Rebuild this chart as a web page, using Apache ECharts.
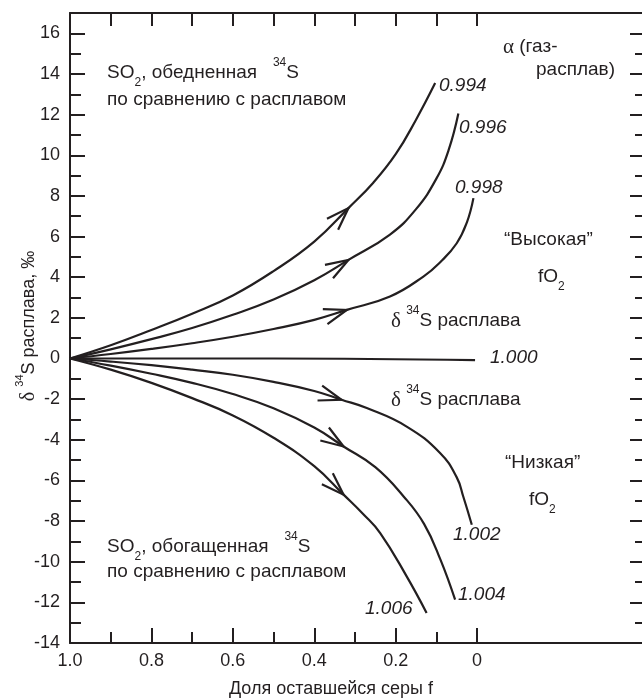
<!DOCTYPE html>
<html>
<head>
<meta charset="utf-8">
<script src="https://cdn.jsdelivr.net/npm/echarts@6/dist/echarts.min.js"></script>
<style>
  html, body { margin: 0; padding: 0; background: #fff; }
  #main { width: 642px; height: 699px; }
</style>
</head>
<body>
<div id="main"></div>
<script>
var ink = '#231f20';
var sans = '"Liberation Sans", Arial, sans-serif';
var serif = '"Liberation Serif", "Times New Roman", serif';

// доля оставшейся серы f и δ34S расплава для каждого α
var fA0994 = [1.0, 0.9, 0.8, 0.7, 0.6, 0.5, 0.4, 0.316, 0.255, 0.2, 0.15, 0.103];
var dA0994 = [0, 0.65, 1.4, 2.2, 3.1, 4.3, 5.75, 7.4, 8.65, 10.05, 11.75, 13.55];

var fA0996 = [1.0, 0.9, 0.8, 0.7, 0.6, 0.5, 0.4, 0.316, 0.214, 0.15, 0.1, 0.07, 0.046];
var dA0996 = [0, 0.45, 0.95, 1.5, 2.15, 2.9, 3.85, 4.85, 6.1, 7.35, 8.85, 10.25, 12.05];

var fA0998 = [1.0, 0.9, 0.8, 0.7, 0.6, 0.5, 0.4, 0.32, 0.214, 0.132, 0.09, 0.05, 0.025, 0.009];
var dA0998 = [0, 0.22, 0.47, 0.75, 1.07, 1.45, 1.9, 2.39, 3.05, 4.03, 4.75, 5.67, 6.7, 7.89];

var fA1000 = [1.0, 0.5, 0.005];
var dA1000 = [0, 0, -0.08];

var fA1002 = [1.0, 0.9, 0.8, 0.7, 0.6, 0.5, 0.4, 0.333, 0.271, 0.173, 0.091, 0.05, 0.034, 0.013];
var dA1002 = [0, -0.15, -0.33, -0.55, -0.8, -1.15, -1.6, -2.03, -2.44, -3.35, -4.65, -5.85, -6.79, -8.18];

var fA1004 = [1.0, 0.9, 0.8, 0.7, 0.6, 0.5, 0.4, 0.328, 0.25, 0.18, 0.13, 0.09, 0.054];
var dA1004 = [0, -0.35, -0.75, -1.2, -1.75, -2.45, -3.4, -4.33, -5.35, -6.8, -8.15, -9.9, -11.87];

var fA1006 = [1.0, 0.9, 0.8, 0.7, 0.6, 0.5, 0.4, 0.328, 0.28, 0.238, 0.173, 0.124];
var dA1006 = [0, -0.55, -1.2, -1.95, -2.8, -3.9, -5.3, -6.7, -7.65, -8.59, -10.72, -12.52];

// стрелки: острие и точка позади него на той же кривой
var arrowTips  = [[0.316, 7.4], [0.316, 4.85], [0.32, 2.39], [0.333, -2.03], [0.328, -4.33], [0.328, -6.7]];
var arrowTails = [[0.37, 6.3], [0.37, 4.2], [0.37, 2.08], [0.383, -1.72], [0.378, -3.67], [0.378, -5.72]];

// деления осей
var xMajorTicks = [1.0, 0.8, 0.6, 0.4, 0.2, 0];
var xMinorTicks = [0.9, 0.7, 0.5, 0.3, 0.1];
var xTopTicks = [1.0, 0.9, 0.8, 0.7, 0.6, 0.5, 0.4, 0.3, 0.2, 0.1, 0];
var yMajorTicks = [-14, -12, -10, -8, -6, -4, -2, 0, 2, 4, 6, 8, 10, 12, 14, 16];
var yMinorTicks = [-13, -11, -9, -7, -5, -3, -1, 1, 3, 5, 7, 9, 11, 13, 15];

var X_MIN = -0.41, X_MAX = 1, Y_MIN = -14, Y_MAX = 17;

function zip(f, d) {
    var out = [];
    for (var i = 0; i < f.length; i++) out.push([f[i], d[i]]);
    return out;
}

var chart = echarts.init(document.getElementById('main'), null, { renderer: 'canvas' });

function xAx(pos, ticks, len, labels, showLine) {
    return {
        type: 'value', position: pos, min: X_MIN, max: X_MAX, inverse: true,
        axisLine: { show: showLine, onZero: false, lineStyle: { color: ink, width: 2 } },
        axisTick: { show: true, inside: true, length: len, customValues: ticks, lineStyle: { color: ink, width: 2 } },
        axisLabel: labels ? {
            customValues: labels, color: ink, fontSize: 18, fontFamily: sans, margin: 9,
            formatter: function (v) { return v === 1 ? '1.0' : (v === 0 ? '0' : v.toFixed(1)); }
        } : { show: false },
        splitLine: { show: false }
    };
}
function yAx(pos, ticks, len, labels, showLine) {
    return {
        type: 'value', position: pos, min: Y_MIN, max: Y_MAX,
        axisLine: { show: showLine, onZero: false, lineStyle: { color: ink, width: 2 } },
        axisTick: { show: true, inside: true, length: len, customValues: ticks, lineStyle: { color: ink, width: 2 } },
        axisLabel: labels ? { customValues: labels, color: ink, fontSize: 18, fontFamily: sans, margin: 10 } : { show: false },
        splitLine: { show: false }
    };
}

function curve(name, f, d) {
    return {
        name: name, type: 'line', data: zip(f, d), showSymbol: false, symbol: 'none',
        smooth: 0.45,
        lineStyle: { color: ink, width: 2.2 }, silent: true
    };
}

// текст: обычный, нижний и верхний индексы
var rich = {
    n:   { fontSize: 19, fontFamily: sans, lineHeight: 32, fill: ink },
    it:  { fontSize: 19, fontFamily: sans, fontStyle: 'italic', lineHeight: 32, fill: ink },
    g:   { fontSize: 21, fontFamily: serif, lineHeight: 32, fill: ink },
    sup: { fontSize: 12, fontFamily: sans, lineHeight: 10, verticalAlign: 'top', fill: ink },
    sub: { fontSize: 12, fontFamily: sans, lineHeight: 18, verticalAlign: 'bottom', fill: ink }
};
function txt(x, y, text, align) {
    return {
        type: 'text', x: x, y: y, silent: true,
        style: {
            text: text, rich: rich, fill: ink, font: '19px ' + sans,
            align: align || 'left', verticalAlign: 'middle',
            textAlign: align || 'left', textVerticalAlign: 'middle'
        }
    };
}

var option = {
    animation: false,
    backgroundColor: '#fff',
    grid: { left: 70, top: 13, right: -2, bottom: 56, containLabel: false, outerBoundsMode: 'none' },
    xAxis: [
        xAx('bottom', xMajorTicks, 15, xMajorTicks, true),
        xAx('bottom', xMinorTicks, 11, null, false),
        xAx('top', xTopTicks, 13, null, true)
    ],
    yAxis: [
        yAx('left', yMajorTicks, 15, yMajorTicks, true),
        yAx('left', yMinorTicks, 11, null, false),
        yAx('right', yMajorTicks, 14, null, true),
        yAx('right', yMinorTicks, 9, null, false)
    ],
    series: [
        curve('0.994', fA0994, dA0994),
        curve('0.996', fA0996, dA0996),
        curve('0.998', fA0998, dA0998),
        curve('1.000', fA1000, dA1000),
        curve('1.002', fA1002, dA1002),
        curve('1.004', fA1004, dA1004),
        curve('1.006', fA1006, dA1006),
        {
            type: 'custom', silent: true,
            data: arrowTips.map(function (t, i) { return [t[0], t[1], arrowTails[i][0], arrowTails[i][1]]; }),
            encode: { x: 0, y: 1 },
            renderItem: function (params, api) {
                var tip = api.coord([api.value(0), api.value(1)]);
                var tail = api.coord([api.value(2), api.value(3)]);
                var bx = tail[0] - tip[0], by = tail[1] - tip[1];
                var len = Math.sqrt(bx * bx + by * by);
                bx /= len; by /= len;
                var L = 24, a = 19 * Math.PI / 180, c = Math.cos(a), s = Math.sin(a);
                var p1 = [tip[0] + L * (bx * c - by * s), tip[1] + L * (bx * s + by * c)];
                var p2 = [tip[0] + L * (bx * c + by * s), tip[1] + L * (-bx * s + by * c)];
                return {
                    type: 'polyline',
                    shape: { points: [p1, tip, p2] },
                    style: { stroke: ink, lineWidth: 2.2, fill: null }
                };
            }
        }
    ],
    graphic: [
        txt(107, 73, '{n|SO}{sub|2}{n|, обедненная   }{sup|34}{n|S}'),
        txt(107, 100, '{n|по сравнению с расплавом}'),
        txt(107, 547, '{n|SO}{sub|2}{n|, обогащенная   }{sup|34}{n|S}'),
        txt(107, 572, '{n|по сравнению с расплавом}'),
        txt(503, 47, '{g|α}{n| (газ-}'),
        txt(615, 70, '{n|расплав)}', 'right'),
        txt(439, 86, '{it|0.994}'),
        txt(459, 128, '{it|0.996}'),
        txt(455, 188, '{it|0.998}'),
        txt(490, 358, '{it|1.000}'),
        txt(453, 535, '{it|1.002}'),
        txt(458, 595, '{it|1.004}'),
        txt(365, 609, '{it|1.006}'),
        txt(504, 240, '{n|“Высокая”}'),
        txt(538, 277, '{n|fO}{sub|2}'),
        txt(391, 321, '{g|δ}{n| }{sup|34}{n|S расплава}'),
        txt(391, 400, '{g|δ}{n| }{sup|34}{n|S расплава}'),
        txt(505, 463, '{n|“Низкая”}'),
        txt(529, 500, '{n|fO}{sub|2}'),
        {
            type: 'text', x: 331, y: 689, silent: true,
            style: {
                text: 'Доля оставшейся серы f', fill: ink, font: '18px ' + sans,
                align: 'center', verticalAlign: 'middle', textAlign: 'center', textVerticalAlign: 'middle'
            }
        },
        {
            type: 'text', x: 29, y: 326, rotation: Math.PI / 2, silent: true,
            style: {
                text: '{g|δ}{n| }{sup|34}{n|S расплава, ‰}',
                rich: {
                    n:   { fontSize: 18, fontFamily: sans, lineHeight: 30, fill: ink },
                    g:   { fontSize: 20, fontFamily: serif, lineHeight: 30, fill: ink },
                    sup: { fontSize: 11, fontFamily: sans, lineHeight: 10, verticalAlign: 'top', fill: ink }
                },
                fill: ink, align: 'center', verticalAlign: 'middle', textAlign: 'center', textVerticalAlign: 'middle'
            }
        }
    ]
};

chart.setOption(option);
</script>
</body>
</html>
